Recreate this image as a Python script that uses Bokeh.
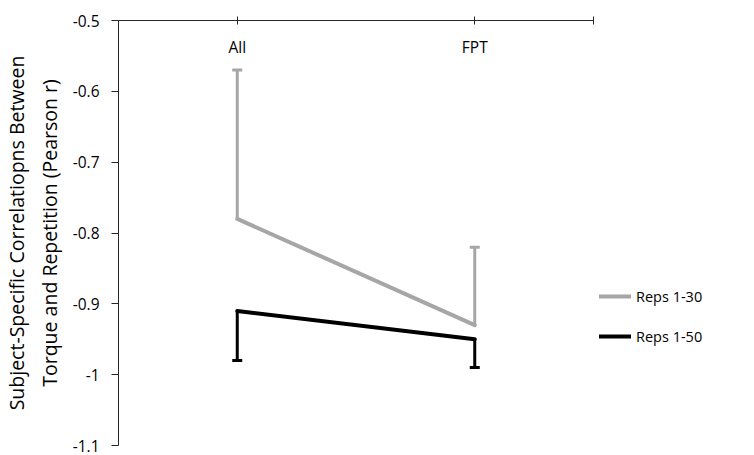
from bokeh.plotting import figure
from bokeh.models import (FixedTicker, Range1d, Whisker, ColumnDataSource,
                          Legend, LegendItem, TeeHead)
from bokeh.core.properties import value
from bokeh.embed import file_html
from bokeh.resources import INLINE

categories = ["All", "FPT"]
reps30 = [-0.78, -0.93]
reps30_err_upper = [-0.57, -0.82]
reps50 = [-0.91, -0.95]
reps50_err_lower = [-0.98, -0.99]
series_names = ["Reps 1-30", "Reps 1-50"]
y_ticks = [-1.1, -1.0, -0.9, -0.8, -0.7, -0.6, -0.5]
y_tick_labels = ["-1.1", "-1", "-0.9", "-0.8", "-0.7", "-0.6", "-0.5"]
y_title = "Subject-Specific Correlatiopns Between\nTorque and Repetition (Pearson r)"

GRAY = "#A6A6A6"
BLACK = "#000000"
FONT = "Open Sans"
FS = "15.5px"

xs = [i + 0.5 for i in range(len(categories))]
x_ticks = xs + [len(categories)]

p = figure(frame_width=475, frame_height=425, x_range=Range1d(0, len(categories)),
           y_range=Range1d(-1.1, -0.5), x_axis_location="above",
           toolbar_location=None, output_backend="svg",
           min_border_left=117, min_border_right=162, min_border_top=20,
           min_border_bottom=10, outline_line_color=None)
p.grid.visible = False

# top category axis (labels drawn separately below the line)
xa = p.xaxis[0]
xa.ticker = FixedTicker(ticks=x_ticks)
xa.major_label_overrides = {t: "" for t in x_ticks}
xa.major_tick_in = 4
xa.major_tick_out = 4
xa.minor_tick_line_color = None
xa.major_label_standoff = 0
xa.axis_line_color = "#262626"
xa.major_tick_line_color = "#262626"

# left value axis
ya = p.yaxis[0]
ya.ticker = FixedTicker(ticks=y_ticks)
ya.major_label_overrides = {t: l for t, l in zip(y_ticks, y_tick_labels)}
ya.major_tick_in = 0
ya.major_tick_out = 7
ya.minor_tick_line_color = None
ya.axis_line_color = "#262626"
ya.major_tick_line_color = "#262626"
ya.major_label_text_font = FONT
ya.major_label_text_font_size = FS
ya.major_label_text_color = "#000000"
ya.major_label_standoff = 12
ya.axis_label = y_title
ya.axis_label_text_font = FONT
ya.axis_label_text_font_size = "19.5px"
ya.axis_label_text_font_style = "normal"
ya.axis_label_text_color = "#000000"
ya.axis_label_standoff = 7

# error bars
src30 = ColumnDataSource(dict(base=xs, lower=reps30, upper=reps30_err_upper))
src50 = ColumnDataSource(dict(base=xs, lower=reps50_err_lower, upper=reps50))
w30 = Whisker(base="base", lower="lower", upper="upper", source=src30, dimension="height",
              line_color=GRAY, line_width=3,
              upper_head=TeeHead(size=10, line_color=GRAY, line_width=3), lower_head=None)
w50 = Whisker(base="base", lower="lower", upper="upper", source=src50, dimension="height",
              line_color=BLACK, line_width=3,
              lower_head=TeeHead(size=10, line_color=BLACK, line_width=3), upper_head=None)
p.add_layout(w30)
p.add_layout(w50)

r30 = p.line(xs, reps30, line_color=GRAY, line_width=4, line_cap="round", line_join="round")
r50 = p.line(xs, reps50, line_color=BLACK, line_width=4, line_cap="round", line_join="round")

# category labels below the top axis line
p.text(x=xs, y=[-0.5] * len(xs), text=categories, text_align="center",
       text_baseline="middle", y_offset=26, text_font=value(FONT),
       text_font_size=FS, text_color="#000000")

legend = Legend(items=[LegendItem(label=series_names[0], renderers=[r30]),
                       LegendItem(label=series_names[1], renderers=[r50])],
                location=(6, 99), padding=0, margin=0, spacing=20,
                glyph_width=32, glyph_height=20, label_standoff=5,
                label_text_font=FONT, label_text_font_size="14.5px",
                label_text_color="#000000", border_line_color=None,
                background_fill_alpha=0)
p.add_layout(legend, "right")

open("out.html", "w").write(file_html(p, INLINE))
